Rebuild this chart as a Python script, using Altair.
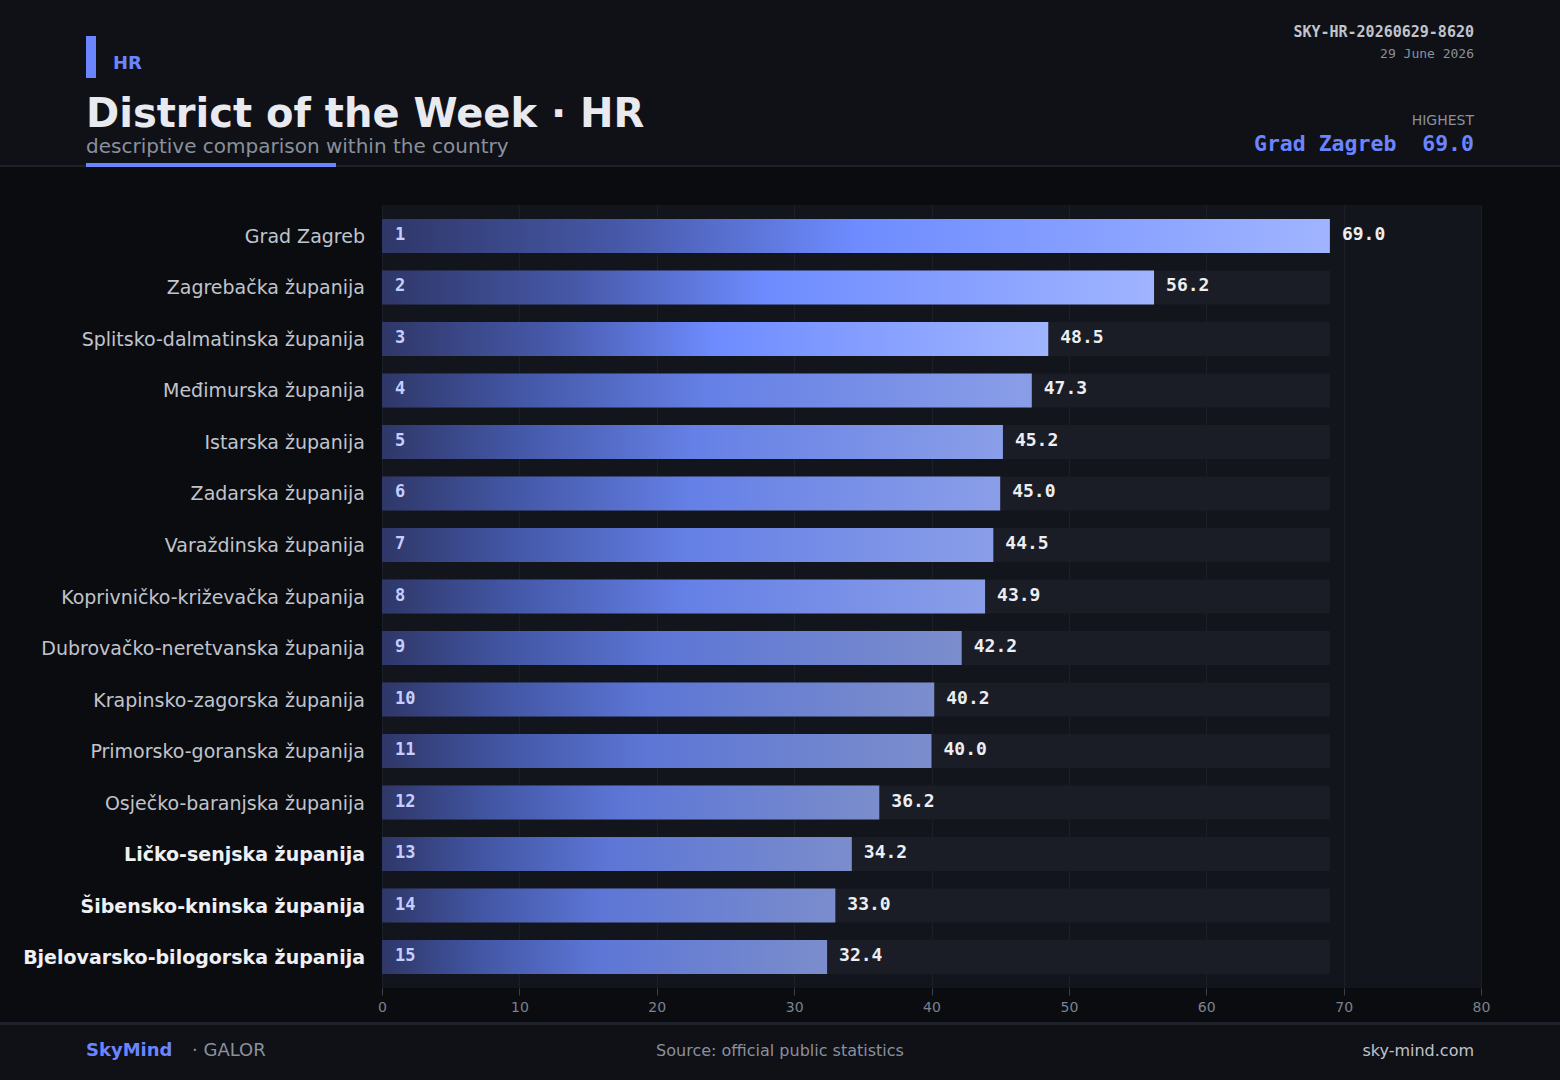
import altair as alt
import pandas as pd

names = [
    "Grad Zagreb", "Zagrebačka županija", "Splitsko-dalmatinska županija",
    "Međimurska županija", "Istarska županija", "Zadarska županija",
    "Varaždinska županija", "Koprivničko-križevačka županija",
    "Dubrovačko-neretvanska županija", "Krapinsko-zagorska županija",
    "Primorsko-goranska županija", "Osječko-baranjska županija",
    "Ličko-senjska županija", "Šibensko-kninska županija",
    "Bjelovarsko-bilogorska županija",
]
values = [69.0, 56.2, 48.5, 47.3, 45.2, 45.0, 44.5, 43.9, 42.2, 40.2, 40.0, 36.2, 34.2, 33.0, 32.4]
x_ticks = [0, 10, 20, 30, 40, 50, 60, 70, 80]

df = pd.DataFrame({"name": names, "value": values, "rank": list(range(1, len(names) + 1))})
n = len(names)
top_name = names[values.index(max(values))]
top_val = max(values)

ACC = "#6b85ff"
SANS = "DejaVu Sans"
MONO = "DejaVu Sans Mono"

W, H = 1099, 783
PAD = {"left": 382, "top": 205, "right": 79, "bottom": 92}

y_enc = alt.Y("name:N", sort=names, axis=None,
              scale=alt.Scale(paddingInner=0.34, paddingOuter=0.27))
x_scale = alt.Scale(domain=[0, 80], nice=False)

one = pd.DataFrame({"k": [0]})

def rect(x, x2, y, y2, color):
    return alt.Chart(one).mark_rect(color=color).encode(
        x=alt.value(x), x2=alt.value(x2), y=alt.value(y), y2=alt.value(y2))

def txt(s, x, y, size, color, font=SANS, weight="normal", align="left"):
    return alt.Chart(pd.DataFrame({"t": [s]})).mark_text(
        font=font, fontSize=size, fontWeight=weight, color=color,
        align=align, baseline="alphabetic").encode(
        x=alt.value(x), y=alt.value(y), text="t:N")

# decoration bands
header_bg = rect(-382, 1178, -205, -40, "#0f1117")
header_sep = rect(-382, 1178, -40, -38, "#1c212b")
footer_sep = rect(-382, 1178, 817, 820, "#1c212b")
footer_bg = rect(-382, 1178, 820, 875, "#0f1117")
accent_bar = rect(-296, -286, -169, -127, ACC)
underline = rect(-296, -46, -42, -38, ACC)

base = alt.Chart(df)

track = base.transform_joinaggregate(mx="max(value)").mark_bar(
    color="#1a1d26").encode(
    x=alt.X("mx:Q", scale=x_scale,
            axis=alt.Axis(values=x_ticks, title=None, domain=False, grid=True,
                          gridColor="#1b1f28", gridWidth=1, tickColor="#3a404c",
                          tickSize=7, labelFontSize=14, labelColor="#7c828e",
                          labelFont=SANS, labelPadding=5, labelFlush=False)),
    y=y_enc)

def grad(stops):
    return alt.LinearGradient(
        gradient="linear", x1=0, x2=1, y1=0, y2=0,
        stops=[alt.GradientStop(color=c, offset=o) for o, c in stops])

gA = grad([(0, "#2f3768"), (0.25, "#4658a8"), (0.5, "#6e8cff"), (1, "#a0b4ff")])
gB = grad([(0, "#2f3768"), (0.22, "#4458a8"), (0.5, "#6580e6"), (1, "#8a9ee8")])
gC = grad([(0, "#2f3768"), (0.22, "#4256a4"), (0.48, "#5d76d6"), (1, "#7b8dcc")])

def bars(cond, g):
    return base.transform_filter(cond).mark_bar(color=g).encode(
        x=alt.X("value:Q", scale=x_scale), y=y_enc)

barsA = bars("datum.rank <= 3", gA)
barsB = bars("datum.rank > 3 && datum.rank <= 8", gB)
barsC = bars("datum.rank > 8", gC)

rank_txt = base.mark_text(font=MONO, fontSize=17, fontWeight="bold", color="#c5ceff",
                          align="left", baseline="middle", dy=-1).encode(
    x=alt.value(13), y=y_enc, text="rank:N")

val_txt = base.mark_text(font=MONO, fontSize=18, fontWeight="bold", color="#eceef2",
                         align="left", baseline="middle", dx=12, dy=-1).encode(
    x=alt.X("value:Q", scale=x_scale), y=y_enc, text=alt.Text("value:Q", format=".1f"))

cat_norm = base.transform_filter(f"datum.rank <= {n - 3}").mark_text(
    font=SANS, fontSize=19, align="right", baseline="middle", dy=1, color="#c0c4cc").encode(
    x=alt.value(-17), y=y_enc, text="name:N")
cat_bold = base.transform_filter(f"datum.rank > {n - 3}").mark_text(
    font=SANS, fontSize=19, fontWeight="bold", align="right", baseline="middle", dy=1,
    color="#eef0f4").encode(
    x=alt.value(-17), y=y_enc, text="name:N")

texts = [
    txt("HR", -269, -136, 18, ACC, weight="bold"),
    txt("District of the Week · HR", -296, -78, 40, "#e8eaf0", weight="bold"),
    txt("descriptive comparison within the country", -296, -52, 20, "#8a909c"),
    txt("SKY-HR-20260629-8620", 1092, -168, 15, "#c0c4cc", font=MONO, weight="bold", align="right"),
    txt("29 June 2026", 1092, -147, 13, "#8a909c", font=MONO, align="right"),
    txt("HIGHEST", 1092, -80, 14, "#8a909c", align="right"),
    txt(f"{top_name}\u00a0\u00a0{top_val:.1f}", 1092, -54, 21.5, ACC, font=MONO, weight="bold", align="right"),
    txt("SkyMind", -296, 851, 18, ACC, weight="bold"),
    txt("· GALOR", -190, 851, 18, "#8a909c"),
    txt("Source: official public statistics", 398, 851, 16, "#8a909c", align="center"),
    txt("sky-mind.com", 1092, 851, 16, "#c0c4cc", align="right"),
]

chart = alt.layer(
    header_bg, header_sep, footer_sep, footer_bg, accent_bar, underline,
    track, barsA, barsB, barsC, rank_txt, val_txt, cat_norm, cat_bold, *texts
).properties(
    width=W, height=H, padding=PAD,
    autosize=alt.AutoSizeParams(type="none"),
).configure(background="#0b0c10").configure_view(fill="#12151c", stroke=None)

chart.save("out.html", embed_options={"renderer": "svg", "actions": False})
